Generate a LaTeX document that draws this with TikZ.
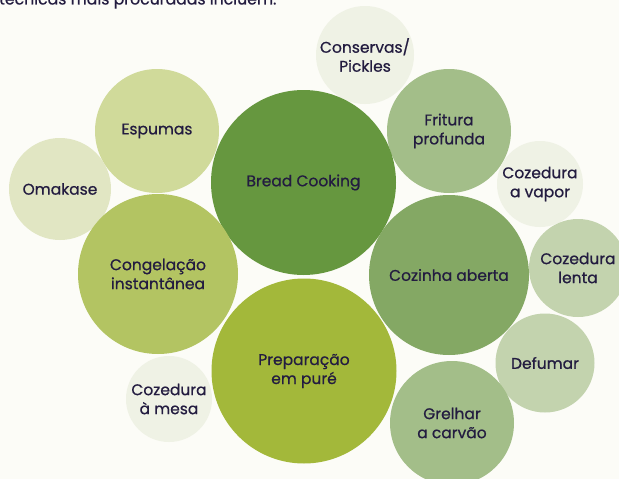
\documentclass[tikz,border=0pt]{standalone}
\usepackage{fontspec}
\setmainfont{Poppins}[FakeBold=0.7]
\newfontfamily\bubblefont{Poppins}[FakeBold=0.7]
\definecolor{bg}{HTML}{FCFCF7}
\definecolor{ink}{HTML}{231C40}
\definecolor{cBread}{HTML}{66973F}
\definecolor{cAberta}{HTML}{84A864}
\definecolor{cMid}{HTML}{A3BE89}
\definecolor{cLight}{HTML}{C3D3AE}
\definecolor{cPale}{HTML}{EFF2E5}
\definecolor{cEsp}{HTML}{D0DA9A}
\definecolor{cOma}{HTML}{E1E6C3}
\definecolor{cCong}{HTML}{B3C462}
\definecolor{cPrep}{HTML}{A3B83A}
\tikzset{
  bubble/.style={circle, inner sep=0pt, minimum size=#1, text=ink, align=center,
    font=\bubblefont\fontsize{15.5}{19}\selectfont},
}
\begin{document}
\begin{tikzpicture}[x=1pt,y=-1pt]
\clip (0,0) rectangle (619,479);
\fill[bg] (0,0) rectangle (619,479);
\node[anchor=base west, text=ink, font=\bubblefont\fontsize{15.7}{18}\selectfont, inner sep=0pt] (title) at (-1,4.5) {técnicas mais procuradas incluem:};
\node[bubble=98pt, fill=cPale] (conservas) at (365,55) {Conservas/\\Pickles};
\node[bubble=124pt, fill=cMid] (fritura) at (449,131) {Fritura\\profunda};
\node[bubble=86pt, fill=cPale] (vapor) at (540,184) {Cozedura\\a vapor};
\node[bubble=185pt, fill=cBread] (bread) at (303.5,182.5) {Bread Cooking};
\node[bubble=124pt, fill=cEsp] (espumas) at (157,131) {Espumas};
\node[bubble=102pt, fill=cOma] (omakase) at (60,189) {Omakase};
\node[bubble=160pt, fill=cCong] (congelacao) at (158,274) {Congelação\\instantânea};
\node[bubble=185pt, fill=cPrep] (preparacao) at (304,371) {Preparação\\em puré};
\node[bubble=86pt, fill=cPale] (mesa) at (169,399) {Cozedura\\à mesa};
\node[bubble=160pt, fill=cAberta] (aberta) at (449,275) {Cozinha aberta};
\node[bubble=98pt, fill=cLight] (lenta) at (578,268) {Cozedura\\lenta};
\node[bubble=99pt, fill=cLight] (defumar) at (545,363) {Defumar};
\node[bubble=124pt, fill=cMid] (grelhar) at (452,423) {Grelhar\\a carvão};
\end{tikzpicture}
\end{document}
